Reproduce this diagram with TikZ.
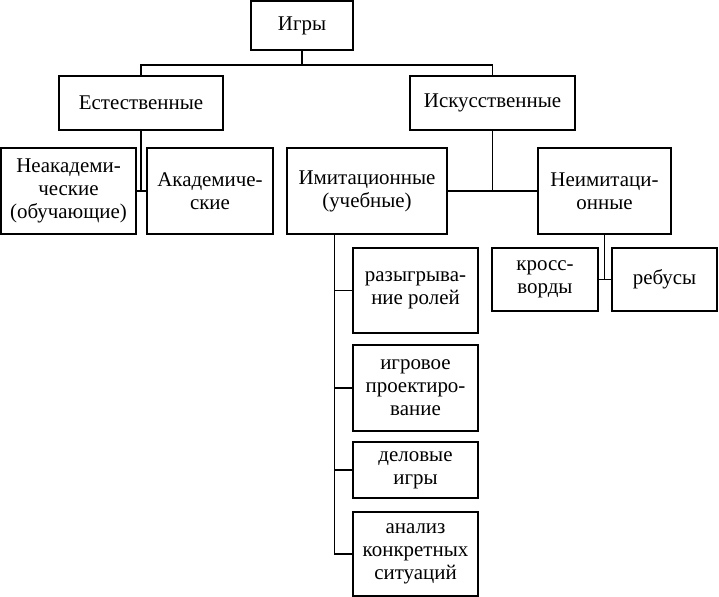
\documentclass[tikz,border=0pt]{standalone}
\usepackage{fontspec}
\setmainfont{Liberation Serif}
\usetikzlibrary{calc}
\begin{document}
\begin{tikzpicture}[x=1bp,y=-1bp,
  box/.style={draw,line width=1.3bp,inner sep=0pt,align=center,
    font=\fontsize{21}{23}\selectfont},
  link/.style={line width=1.3bp}]
\useasboundingbox (0,0) rectangle (719,597);
\node[box,minimum width=102bp,minimum height=49bp] (igry) at (302,25.5) {Игры};
\node[box,minimum width=164bp,minimum height=54bp] (est) at (141,103) {Естественные};
\node[box,minimum width=165bp,minimum height=54bp] (isk) at (492.5,103) {Искусственные};
\node[box,minimum width=135bp,minimum height=86bp] (neak) at (68.5,191) {Неакадеми-\\ческие\\(обучающие)};
\node[box,minimum width=126bp,minimum height=86bp] (akad) at (210,191) {Академиче-\\ские};
\node[box,minimum width=160bp,minimum height=86bp] (imit) at (367,191) {Имитационные\\(учебные)};
\node[box,minimum width=133bp,minimum height=86bp] (neim) at (604.5,191) {Неимитаци-\\онные};
\node[box,minimum width=106bp,minimum height=63bp] (kross) at (545,279.5) {кросс-\\ворды};
\node[box,minimum width=105bp,minimum height=63bp] (rebus) at (664.5,279.5) {ребусы};
\node[box,minimum width=125bp,minimum height=85bp] (razy) at (415.5,290.5) {разыгрыва-\\ние ролей};
\node[box,minimum width=125bp,minimum height=86bp] (igrov) at (415.5,388) {игровое\\проектиро-\\вание};
\node[box,minimum width=125bp,minimum height=56bp] (delov) at (415.5,470) {деловые\\игры};
\node[box,minimum width=125bp,minimum height=84bp] (analiz) at (415.5,554) {анализ\\конкретных\\ситуаций};
\coordinate (j1) at (302,65);
\coordinate (t) at ($(imit.south west)+(48,0)$);
\draw[link] (igry) -- (j1);
\draw[link] (est.north) |- (j1) -| (isk.north);
\draw[link] (est.south) -- (est.south |- neak.east);
\draw[link] (neak.east) -- (akad.west);
\draw[link] (isk.south) -- (isk.south |- imit.east);
\draw[link] (imit.east) -- (neim.west);
\draw[link] (neim.south) -- (neim.south |- kross.east);
\draw[link] (kross.east) -- (rebus.west);
\draw[link] (t) |- (analiz.west);
\draw[link] (t |- razy.west) -- (razy.west);
\draw[link] (t |- igrov.west) -- (igrov.west);
\draw[link] (t |- delov.west) -- (delov.west);
\end{tikzpicture}
\end{document}
